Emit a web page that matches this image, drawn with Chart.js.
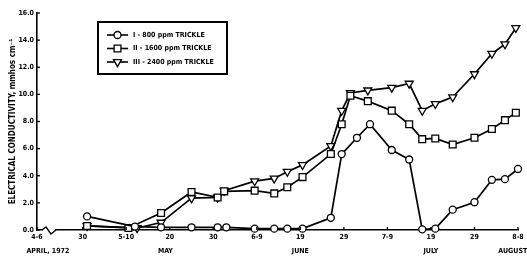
<!DOCTYPE html>
<html>
<head>
<meta charset="utf-8">
<script src="https://cdn.jsdelivr.net/npm/chart.js@4.4.0/dist/chart.umd.min.js"></script>
<style>
  html, body { margin: 0; padding: 0; background: #fff; }
</style>
</head>
<body>
<canvas id="myChart" width="527" height="258"></canvas>
<script>
// x values are days counted from April 30, 1972 (left end of the axis is broken back to 4-6)
var tickDays = [-10.5, 0, 10, 20, 30, 40, 50, 60, 70, 80, 90, 100];
var tickLabels = ["4-6", "30", "5-10", "20", "30", "6-9", "19", "29", "7-9", "19", "29", "8-8"];
var monthLabels = ["APRIL, 1972", "MAY", "JUNE", "JULY", "AUGUST"];
var monthDays = [-8, 19, 50, 80, 98.8];
var yTicks = [0, 2, 4, 6, 8, 10, 12, 14, 16];

var seriesNames = ["I - 800 ppm TRICKLE", "II - 1600 ppm TRICKLE", "III - 2400 ppm TRICKLE"];

var days1 = [1, 12, 18, 25, 31, 33, 39.5, 44, 47, 50.5, 57, 59.5, 63, 66, 71, 75, 78, 81, 85, 90, 94, 97, 100];
var ec1 = [1.0, 0.25, 0.2, 0.2, 0.2, 0.2, 0.1, 0.1, 0.1, 0.1, 0.9, 5.6, 6.8, 7.8, 5.9, 5.2, 0.05, 0.1, 1.5, 2.05, 3.7, 3.75, 4.5];

var days2 = [1, 10.5, 18, 25, 31, 32.5, 39.5, 44, 47, 50.5, 57, 59.5, 61.5, 65.5, 71, 75, 78, 81, 85, 90, 94, 97, 99.5];
var ec2 = [0.3, 0.15, 1.25, 2.8, 2.4, 2.85, 2.9, 2.7, 3.15, 3.9, 5.6, 7.8, 9.9, 9.5, 8.8, 7.8, 6.7, 6.75, 6.3, 6.8, 7.45, 8.1, 8.65];

var days3 = [1, 12.5, 18, 25, 31, 32.5, 39.5, 44, 47, 50.5, 57, 59.5, 61.5, 65.5, 71, 75, 78, 81, 85, 90, 94, 97, 99.5];
var ec3 = [0.3, 0.15, 0.55, 2.35, 2.4, 2.9, 3.6, 3.8, 4.3, 4.8, 6.2, 8.8, 10.1, 10.3, 10.5, 10.8, 8.8, 9.3, 9.8, 11.5, 13.0, 13.7, 14.9];

var fontFam = "'Liberation Sans Narrow', 'DejaVu Sans Condensed', 'Liberation Sans', sans-serif";

function pts(xs, ys) {
  return xs.map(function (x, i) { return { x: x, y: ys[i] }; });
}

function series(label, xs, ys, style, radius, rotation) {
  return {
    label: label,
    data: pts(xs, ys),
    borderColor: "#000",
    borderWidth: 1.7,
    pointStyle: style,
    pointRadius: radius,
    pointRotation: rotation,
    pointBackgroundColor: "#fff",
    pointBorderColor: "#000",
    pointBorderWidth: 1.3,
    tension: 0,
    clip: false
  };
}

function drawMarker(ctx, style, x, y) {
  ctx.beginPath();
  if (style === "circle") {
    ctx.arc(x, y, 3.5, 0, Math.PI * 2);
  } else if (style === "rect") {
    ctx.rect(x - 3.4, y - 3.4, 6.8, 6.8);
  } else {
    ctx.moveTo(x - 4, y - 2.3);
    ctx.lineTo(x + 4, y - 2.3);
    ctx.lineTo(x, y + 4.6);
    ctx.closePath();
  }
  ctx.fill();
  ctx.stroke();
}

// inward ticks, axis break, month names and the boxed legend
var extras = {
  id: "extras",
  afterDraw: function (chart) {
    var ctx = chart.ctx, a = chart.chartArea;
    var xs = chart.scales.x, ys = chart.scales.y;
    ctx.save();
    ctx.strokeStyle = "#000";
    ctx.lineWidth = 1.3;
    xs.ticks.forEach(function (t) {
      var px = xs.getPixelForValue(t.value);
      ctx.beginPath(); ctx.moveTo(px, a.bottom); ctx.lineTo(px, a.bottom - 3); ctx.stroke();
    });
    ys.ticks.forEach(function (t) {
      var py = ys.getPixelForValue(t.value);
      ctx.beginPath(); ctx.moveTo(a.left, py); ctx.lineTo(a.left + 3, py); ctx.stroke();
    });

    // axis break
    var bx = a.left + 6;
    ctx.fillStyle = "#fff";
    ctx.fillRect(bx, a.bottom - 2, 12, 4);
    ctx.beginPath();
    ctx.moveTo(bx - 1, a.bottom);
    ctx.lineTo(bx + 3, a.bottom - 3);
    ctx.lineTo(bx + 8, a.bottom + 4);
    ctx.lineTo(bx + 13, a.bottom);
    ctx.stroke();

    // month row
    ctx.fillStyle = "#000";
    ctx.font = "bold 7px " + fontFam;
    ctx.textAlign = "center";
    ctx.textBaseline = "middle";
    monthLabels.forEach(function (m, i) {
      ctx.fillText(m, xs.getPixelForValue(monthDays[i]), a.bottom + 21);
    });

    // legend box
    var lx = a.left + 61, ly = a.top + 9, lw = 129, lh = 52;
    ctx.fillStyle = "#fff";
    ctx.fillRect(lx, ly, lw, lh);
    ctx.lineWidth = 2;
    ctx.strokeRect(lx, ly, lw, lh);
    chart.data.datasets.forEach(function (ds, i) {
      var rowY = ly + 13 + i * 13.5;
      ctx.lineWidth = 1.6;
      ctx.strokeStyle = "#000";
      ctx.beginPath(); ctx.moveTo(lx + 9, rowY); ctx.lineTo(lx + 30, rowY); ctx.stroke();
      ctx.fillStyle = "#fff";
      ctx.lineWidth = 1.3;
      drawMarker(ctx, ds.pointStyle, lx + 19.5, rowY);
      ctx.fillStyle = "#000";
      ctx.textAlign = "left";
      ctx.fillText(ds.label, lx + 35, rowY);
    });
    ctx.restore();
  }
};

var ctx = document.getElementById("myChart").getContext("2d");
var chart = new Chart(ctx, {
  type: "line",
  data: {
    datasets: [
      series(seriesNames[0], days1, ec1, "circle", 3.5, 0),
      series(seriesNames[1], days2, ec2, "rect", 4.8, 0),
      series(seriesNames[2], days3, ec3, "triangle", 4.6, 180)
    ]
  },
  options: {
    responsive: false,
    animation: false,
    events: [],
    layout: { padding: { top: 13, right: 9, left: 0, bottom: 0 } },
    plugins: { legend: { display: false }, tooltip: { enabled: false } },
    scales: {
      x: {
        type: "linear",
        min: -10.5,
        max: 100,
        afterBuildTicks: function (s) { s.ticks = tickDays.map(function (v) { return { value: v }; }); },
        afterFit: function (s) { s.height = 28; },
        ticks: {
          autoSkip: false,
          maxRotation: 0,
          padding: 3,
          color: "#000",
          font: { family: fontFam, size: 7, weight: "bold" },
          callback: function (v, i) { return tickLabels[i]; }
        },
        grid: { display: false, drawTicks: false },
        border: { color: "#000", width: 1.6 }
      },
      y: {
        min: 0,
        max: 16,
        afterBuildTicks: function (s) { s.ticks = yTicks.map(function (v) { return { value: v }; }); },
        afterFit: function (s) { s.width = 37; },
        ticks: {
          padding: 3,
          color: "#000",
          font: { family: fontFam, size: 7, weight: "bold" },
          callback: function (v) { return v.toFixed(1); }
        },
        title: {
          display: true,
          text: "ELECTRICAL CONDUCTIVITY, mmhos cm\u207B\u00B9",
          color: "#000",
          font: { family: fontFam, size: 8, weight: "bold" },
          padding: { top: 8, bottom: 0 }
        },
        grid: { display: false, drawTicks: false },
        border: { color: "#000", width: 1.6 }
      }
    }
  },
  plugins: [extras]
});
</script>
</body>
</html>
